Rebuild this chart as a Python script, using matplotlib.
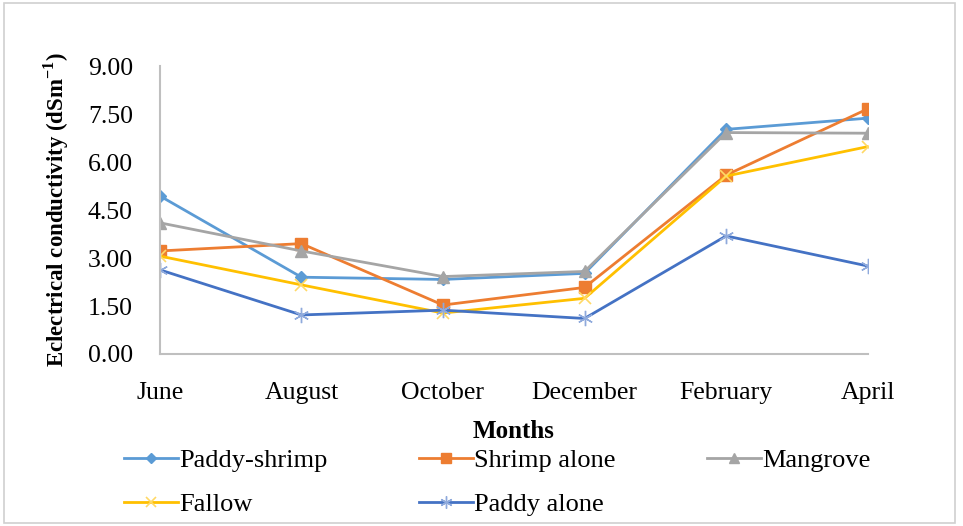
import matplotlib.pyplot as plt
from matplotlib.patches import Rectangle

months = ["June", "August", "October", "December", "February", "April"]
paddy_shrimp = [4.94, 2.40, 2.33, 2.52, 7.02, 7.37]
shrimp_alone = [3.22, 3.45, 1.53, 2.08, 5.59, 7.66]
mangrove = [4.10, 3.22, 2.42, 2.58, 6.92, 6.90]
fallow = [3.06, 2.16, 1.28, 1.74, 5.56, 6.48]
paddy_alone = [2.63, 1.22, 1.37, 1.11, 3.69, 2.75]
yticks = [0, 1.5, 3, 4.5, 6, 7.5, 9]

plt.rcParams['font.family'] = ['Liberation Serif', 'DejaVu Serif']
plt.rcParams['mathtext.fontset'] = 'custom'
plt.rcParams['mathtext.bf'] = 'Liberation Serif:bold'

fig = plt.figure(figsize=(9.63, 5.26), dpi=100)
ax = fig.add_axes([0.166, 0.327, 0.735, 0.5475])

x = list(range(len(months)))
l1, = ax.plot(x, paddy_shrimp, color='#5B9BD5', lw=2.0, marker='D', ms=6.5, label='Paddy-shrimp')
l2, = ax.plot(x, shrimp_alone, color='#ED7D31', lw=2.0, marker='s', ms=9, label='Shrimp alone')
l3, = ax.plot(x, mangrove, color='#A5A5A5', lw=2.0, marker='^', ms=9, label='Mangrove')
l4, = ax.plot(x, fallow, color='#FFC000', lw=2.0, marker='x', ms=9, mew=1.2,
              mec='#FFD966', label='Fallow')
l5, = ax.plot(x, paddy_alone, color='#4472C4', lw=2.0, marker=(6, 2, 0), ms=11, mew=1.0,
              mec='#8FAADC', label='Paddy alone')

ax.set_xlim(0, 5)
ax.set_ylim(0, 9)
ax.set_yticks(yticks)
ax.set_yticklabels(['%.2f' % v for v in yticks])
ax.set_xticks(x)
ax.set_xticklabels(months)
ax.tick_params(length=0, labelsize=18.5)
ax.tick_params(axis='x', pad=20.5)
ax.tick_params(axis='y', pad=19.5)
for side in ['top', 'right']:
    ax.spines[side].set_visible(False)
for side in ['left', 'bottom']:
    ax.spines[side].set_color('#BFBFBF')
    ax.spines[side].set_linewidth(1.5)

ax.set_xlabel('Months', fontsize=18, fontweight='bold', labelpad=11)
ax.set_ylabel('Eclectrical conductivity (dSm$^{\\mathbf{-1}}$)', fontsize=16.5,
              fontweight='bold', labelpad=12)

# legend is filled column by column, so order entries to read row by row
fig.legend([l1, l4, l2, l5, l3],
           ['Paddy-shrimp', 'Fallow', 'Shrimp alone', 'Paddy alone', 'Mangrove'],
           loc='upper left', bbox_to_anchor=(0.104, 0.192), ncol=3, frameon=False,
           prop={'family': 'Liberation Serif', 'size': 19}, handlelength=2.05,
           handletextpad=0.05, columnspacing=3.45, labelspacing=0.78, markerscale=0.8)

fig.patches.append(Rectangle((0.004, 0.006), 0.988, 0.988, transform=fig.transFigure,
                             fill=False, edgecolor='#D0D0D0', lw=1.2))

fig.savefig('out.png', dpi=100)
